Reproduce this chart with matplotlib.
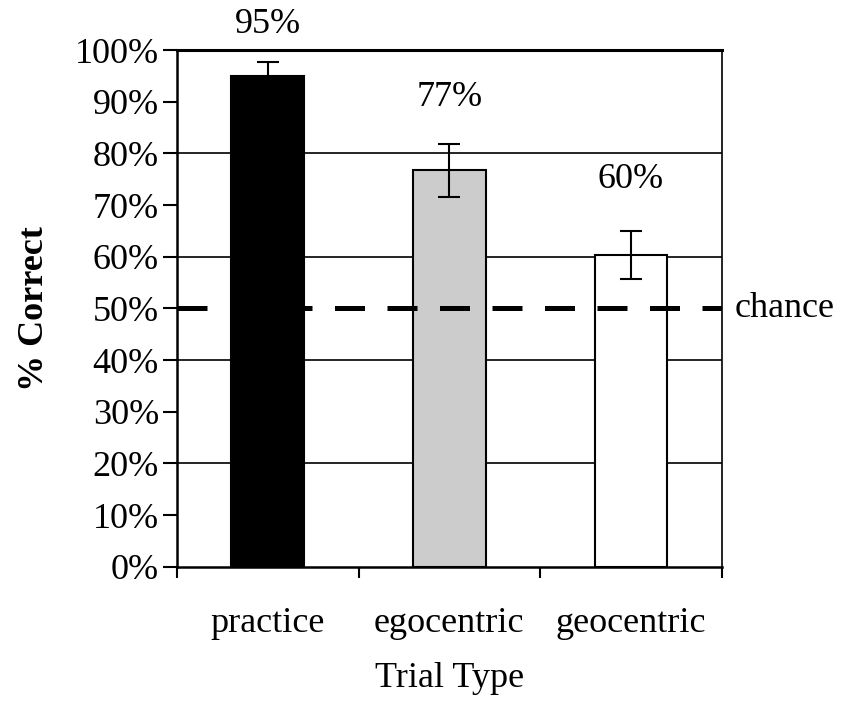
import numpy as np
import matplotlib.pyplot as plt
from matplotlib.ticker import FuncFormatter

plt.rcParams['font.family'] = ['Liberation Serif', 'DejaVu Serif']

# data
trials = ['practice', 'egocentric', 'geocentric']
pct_correct = [95.0, 76.7, 60.3]
err = [2.6, 5.1, 4.7]
bar_colors = ['black', '#cccccc', 'white']
label_text = ['95%', '77%', '60%']
label_y = [105.0, 90.9, 74.9]
chance = 50

FS = 26

fig = plt.figure(figsize=(8.55, 7.05), dpi=100)
ax = fig.add_axes([0.207, 0.196, 0.637, 0.733])

x = np.arange(len(trials))

# horizontal gridlines every 20%
for g in [20, 40, 60, 80]:
    ax.axhline(g, color='black', lw=1.2, zorder=1)

ax.bar(x, pct_correct, width=0.4, color=bar_colors, edgecolor='black',
       linewidth=1.5, zorder=2)
ax.errorbar(x, pct_correct, yerr=err, fmt='none', ecolor='black',
            elinewidth=1.5, capsize=8, capthick=1.5, zorder=3)

ax.axhline(chance, color='black', lw=3.6, dashes=(6, 4.5),
           dash_capstyle='butt', zorder=4)

for xi, t, yy in zip(x, label_text, label_y):
    ax.text(xi, yy, t, ha='center', va='center', fontsize=FS, clip_on=False)

ax.text(2.57, chance, 'chance', ha='left', va='center', fontsize=FS,
        clip_on=False)

ax.set_xlim(-0.5, 2.5)
ax.set_ylim(0, 100)
ax.set_yticks(np.arange(0, 101, 10))
ax.yaxis.set_major_formatter(FuncFormatter(lambda v, p: f'{v:.0f}%'))
ax.tick_params(axis='y', labelsize=FS, length=10, width=1.5, direction='out',
               pad=3)

ax.set_xticks(x)
ax.set_xticklabels(trials)
ax.set_xticks([-0.5, 0.5, 1.5, 2.5], minor=True)
ax.tick_params(axis='x', which='major', length=0, labelsize=FS, pad=29)
ax.tick_params(axis='x', which='minor', length=8, width=1.5, direction='out')

for s in ['left', 'bottom']:
    ax.spines[s].set_linewidth(1.8)
ax.spines['right'].set_linewidth(1.2)
ax.spines['top'].set_linewidth(2.2)

ax.set_xlabel('Trial Type', fontsize=FS, labelpad=16)
ax.set_ylabel('% Correct', fontsize=FS, fontweight='bold', labelpad=17)

fig.savefig('out.png', dpi=100)
